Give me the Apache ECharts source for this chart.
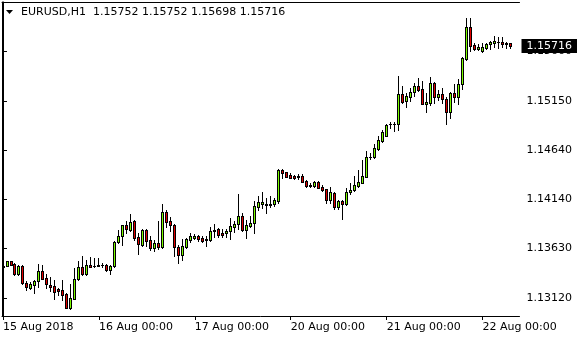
<!DOCTYPE html>
<html>
<head>
<meta charset="utf-8">
<script src="https://cdn.jsdelivr.net/npm/echarts@6/dist/echarts.min.js"></script>
<style>
html,body{margin:0;padding:0;background:#fff;}
#chart{width:580px;height:340px;}
</style>
</head>
<body>
<div id="chart"></div>
<script>
// EURUSD H1, 15 Aug 2018 00:00 -> 22 Aug 2018 07:00 (128 bars)
const symbol = 'EURUSD,H1';
const open = [
1.13443,1.13453,1.13498,1.13470,1.13370,1.13450,1.13278,1.13226,1.13257,1.13295,
1.13398,1.13326,1.13254,1.13241,1.13210,1.13203,1.13161,1.13020,1.13113,1.13313,
1.13437,1.13364,1.13457,1.13453,1.13457,1.13460,1.13460,1.13409,1.13450,1.13694,
1.13759,1.13876,1.13821,1.13914,1.13748,1.13669,1.13821,1.13718,1.13638,1.13690,
1.13646,1.14006,1.13914,1.13876,1.13646,1.13560,1.13646,1.13721,1.13742,1.13755,
1.13742,1.13715,1.13718,1.13821,1.13828,1.13790,1.13787,1.13808,1.13855,1.13880,
1.13965,1.13824,1.13864,1.13889,1.14063,1.14092,1.14092,1.14082,1.14092,1.14117,
1.14439,1.14415,1.14388,1.14377,1.14370,1.14374,1.14326,1.14285,1.14273,1.14312,
1.14266,1.14240,1.14130,1.14202,1.14061,1.14117,1.14086,1.14209,1.14230,1.14277,
1.14308,1.14370,1.14576,1.14570,1.14656,1.14741,1.14793,1.14910,1.14910,1.14910,
1.15222,1.15153,1.15194,1.15240,1.15303,1.15274,1.15122,1.15127,1.15334,1.15188,
1.15222,1.15173,1.15034,1.15231,1.15188,1.15322,1.15580,1.15910,1.15730,1.15683,
1.15669,1.15699,1.15734,1.15751,1.15763,1.15755,1.15751,1.15752];
const high = [
1.13463,1.13501,1.13501,1.13478,1.13457,1.13457,1.13298,1.13285,1.13306,1.13467,
1.13457,1.13367,1.13340,1.13306,1.13226,1.13306,1.13168,1.13264,1.13429,1.13501,
1.13553,1.13512,1.13546,1.13532,1.13532,1.13478,1.13470,1.13460,1.13704,1.13824,
1.13876,1.13911,1.13986,1.13919,1.13787,1.13834,1.13828,1.13759,1.13718,1.13914,
1.14089,1.14027,1.13958,1.13883,1.13666,1.13725,1.13742,1.13787,1.13780,1.13769,
1.13762,1.13755,1.13855,1.13883,1.13838,1.13828,1.13828,1.13941,1.13914,1.14192,
1.13993,1.13924,1.13965,1.14117,1.14174,1.14215,1.14147,1.14174,1.14147,1.14450,
1.14450,1.14422,1.14405,1.14388,1.14398,1.14398,1.14333,1.14308,1.14326,1.14329,
1.14285,1.14246,1.14263,1.14215,1.14130,1.14127,1.14254,1.14302,1.14374,1.14439,
1.14542,1.14638,1.14611,1.14704,1.14786,1.14851,1.14910,1.14931,1.14931,1.15408,
1.15305,1.15230,1.15281,1.15333,1.15384,1.15356,1.15230,1.15401,1.15343,1.15263,
1.15281,1.15188,1.15246,1.15325,1.15377,1.15607,1.16002,1.16002,1.15751,1.15737,
1.15744,1.15751,1.15771,1.15820,1.15807,1.15807,1.15755,1.15752];
const low = [
1.13432,1.13447,1.13457,1.13360,1.13360,1.13261,1.13203,1.13210,1.13175,1.13230,
1.13313,1.13220,1.13195,1.13107,1.13148,1.13100,1.13017,1.13010,1.13107,1.13306,
1.13360,1.13354,1.13437,1.13437,1.13450,1.13443,1.13395,1.13367,1.13443,1.13684,
1.13666,1.13787,1.13811,1.13718,1.13570,1.13656,1.13656,1.13615,1.13608,1.13622,
1.13638,1.13855,1.13814,1.13553,1.13478,1.13512,1.13638,1.13700,1.13725,1.13711,
1.13700,1.13659,1.13711,1.13752,1.13746,1.13752,1.13752,1.13731,1.13803,1.13831,
1.13811,1.13742,1.13855,1.13793,1.14022,1.14044,1.13999,1.14061,1.14071,1.14102,
1.14354,1.14364,1.14354,1.14346,1.14346,1.14312,1.14263,1.14263,1.14263,1.14251,
1.14226,1.14102,1.14102,1.14037,1.14040,1.13937,1.14075,1.14195,1.14220,1.14263,
1.14302,1.14364,1.14556,1.14563,1.14645,1.14731,1.14790,1.14869,1.14844,1.14851,
1.15127,1.15091,1.15153,1.15205,1.15256,1.15116,1.15040,1.15106,1.15127,1.15160,
1.15127,1.14910,1.14970,1.15143,1.15122,1.15271,1.15573,1.15669,1.15676,1.15673,
1.15658,1.15683,1.15686,1.15704,1.15693,1.15704,1.15693,1.15698];
const close = [
1.13453,1.13498,1.13463,1.13370,1.13450,1.13272,1.13230,1.13264,1.13295,1.13398,
1.13319,1.13261,1.13237,1.13185,1.13189,1.13154,1.13020,1.13120,1.13316,1.13437,
1.13364,1.13457,1.13440,1.13447,1.13453,1.13457,1.13409,1.13450,1.13694,1.13759,
1.13869,1.13828,1.13908,1.13742,1.13673,1.13821,1.13711,1.13638,1.13690,1.13646,
1.14006,1.13906,1.13869,1.13646,1.13560,1.13653,1.13728,1.13755,1.13755,1.13731,
1.13711,1.13731,1.13808,1.13808,1.13772,1.13772,1.13814,1.13859,1.13883,1.13965,
1.13824,1.13869,1.13889,1.14065,1.14106,1.14106,1.14082,1.14092,1.14127,1.14439,
1.14405,1.14370,1.14360,1.14360,1.14380,1.14319,1.14273,1.14273,1.14312,1.14257,
1.14236,1.14130,1.14209,1.14061,1.14117,1.14086,1.14209,1.14233,1.14285,1.14312,
1.14374,1.14576,1.14570,1.14663,1.14745,1.14831,1.14900,1.14913,1.14916,1.15222,
1.15143,1.15202,1.15243,1.15303,1.15266,1.15122,1.15139,1.15334,1.15188,1.15222,
1.15168,1.15034,1.15233,1.15188,1.15322,1.15590,1.15910,1.15720,1.15683,1.15704,
1.15704,1.15734,1.15755,1.15768,1.15760,1.15734,1.15734,1.15716];
const xTickIndex = [0, 24, 48, 72, 96, 120];
const xTickLabels = ['15 Aug 2018', '16 Aug 00:00', '17 Aug 00:00', '20 Aug 00:00', '21 Aug 00:00', '22 Aug 00:00'];
const yTicks = [1.13120, 1.13630, 1.14140, 1.14640, 1.15150, 1.15660];

const Y_MIN = 1.12935, Y_MAX = 1.16170;
const X_MIN = -0.25, X_MAX = 129.25;
const BULL = '#7cfc00', BEAR = '#e00000';
const FONT = 'DejaVu Sans';

const rows = open.map((o, i) => [i, o, high[i], low[i], close[i]]);
const n = open.length - 1;
const f5 = v => v.toFixed(5);
const header = symbol + '  ' + [open[n], high[n], low[n], close[n]].map(f5).join(' ');

const chart = echarts.init(document.getElementById('chart'), null, {renderer: 'canvas'});
chart.setOption({
  animation: false,
  backgroundColor: '#fff',
  grid: {left: 2, top: 2, right: 60, bottom: 24, containLabel: false},
  graphic: [
    {type: 'polygon', shape: {points: [[6, 10], [13, 10], [9.5, 14]]}, style: {fill: '#000'}},
    {type: 'text', left: 21, top: 7, style: {text: header, font: '11px "' + FONT + '"', fill: '#000'}}
  ],
  xAxis: [{
    type: 'value', min: X_MIN, max: X_MAX, position: 'bottom',
    axisLine: {show: true, lineStyle: {color: '#000', width: 1}},
    axisTick: {show: true, length: 4, lineStyle: {color: '#000'}, customValues: xTickIndex},
    axisLabel: {
      show: true, customValues: xTickIndex, align: 'left', margin: 6,
      color: '#000', fontFamily: FONT, fontSize: 11,
      formatter: v => xTickLabels[xTickIndex.indexOf(Math.round(v))] || ''
    },
    splitLine: {show: false}
  }, {
    type: 'value', min: X_MIN, max: X_MAX, position: 'top',
    axisLine: {show: true, onZero: false, lineStyle: {color: '#000', width: 1}},
    axisTick: {show: false}, axisLabel: {show: false}, splitLine: {show: false}
  }],
  yAxis: [{
    type: 'value', min: Y_MIN, max: Y_MAX, position: 'right',
    axisLine: {show: true, lineStyle: {color: '#000', width: 1}},
    axisTick: {show: true, length: 4, lineStyle: {color: '#000'}, customValues: yTicks},
    axisLabel: {
      show: true, customValues: yTicks, align: 'left', margin: 7,
      color: '#000', fontFamily: FONT, fontSize: 11, formatter: v => f5(v)
    },
    splitLine: {show: false}
  }, {
    type: 'value', min: Y_MIN, max: Y_MAX, position: 'left',
    axisLine: {show: true, onZero: false, lineStyle: {color: '#000', width: 1}},
    axisTick: {show: false}, axisLabel: {show: false}, splitLine: {show: false}
  }, {
    type: 'value', min: Y_MIN, max: Y_MAX, position: 'right', z: 10,
    axisLine: {show: false}, axisTick: {show: false}, splitLine: {show: false},
    axisLabel: {
      show: true, customValues: [close[n]], align: 'left', margin: 2,
      color: '#fff', backgroundColor: '#000', padding: [2, 5, 1, 5], lineHeight: 11,
      fontFamily: FONT, fontSize: 11, formatter: v => f5(v)
    }
  }],
  series: [{
    type: 'custom',
    xAxisIndex: 0, yAxisIndex: 0,
    data: rows,
    encode: {x: 0, y: [1, 2, 3, 4]},
    clip: true,
    renderItem: function (params, api) {
      const i = api.value(0), o = api.value(1), h = api.value(2), l = api.value(3), c = api.value(4);
      const pO = api.coord([i, o]);
      const px = Math.floor(pO[0] + 0.01);
      const yO = pO[1], yC = api.coord([i, c])[1];
      const yH = Math.round(api.coord([i, h])[1]), yL = Math.round(api.coord([i, l])[1]);
      const top = Math.round(Math.min(yO, yC)), bot = Math.round(Math.max(yO, yC));
      const up = c >= o;
      const kids = [
        {type: 'rect', shape: {x: px, y: yH, width: 1, height: yL - yH + 1}, style: {fill: '#000'}},
        {type: 'rect', shape: {x: px - 1, y: top, width: 3, height: bot - top + 1}, style: {fill: '#000'}}
      ];
      if (bot - top >= 2) {
        kids.push({type: 'rect', shape: {x: px, y: top + 1, width: 1, height: bot - top - 1},
                   style: {fill: up ? BULL : BEAR}});
      }
      return {type: 'group', children: kids};
    }
  }]
});
</script>
</body>
</html>
